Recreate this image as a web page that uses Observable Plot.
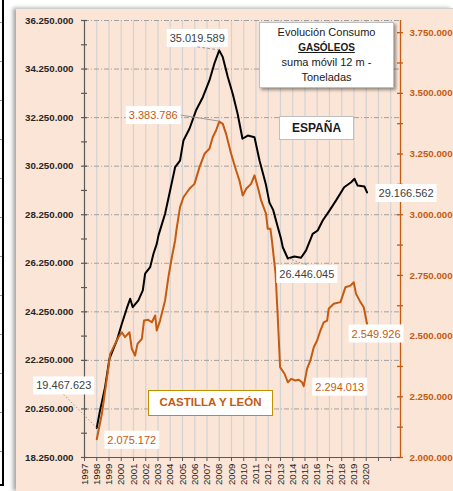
<!DOCTYPE html>
<html><head><meta charset="utf-8">
<script src="https://cdn.jsdelivr.net/npm/d3@7"></script>
<script src="https://cdn.jsdelivr.net/npm/@observablehq/plot@0.6"></script>
<style>
body{margin:0;background:#fff;width:453px;height:491px;overflow:hidden;position:relative;font-family:"Liberation Sans",Arial,sans-serif}
#side{position:absolute;left:0;top:0;width:2px;height:484px;border-right:2px solid #000;border-bottom:2px solid #000;background:repeating-linear-gradient(to bottom,transparent 0 22px,#9a9a9a 22px 23px,transparent 23px 39px)}
#chart{position:absolute;left:16px;top:8px;width:437px;height:483px;background:#FBE5D6;box-shadow:-3px 0 4px rgba(0,0,0,0.35);border-top:1px solid #d0d0d0;box-sizing:border-box}
#chart svg{position:absolute;left:0;top:-1px}
.box{position:absolute;background:#fff;text-align:center;box-sizing:border-box}
#titlebox{left:259px;top:22px;width:135px;height:66px;border:1px solid #bfbfbf;box-shadow:2px 2px 3px rgba(0,0,0,0.4);font-size:11px;line-height:15px;padding-top:2px;color:#1a1a1a}
#titlebox b{font-size:10px;text-decoration:underline}
#espana{left:279px;top:116px;width:75px;height:24px;border:1px solid #bfbfbf;font-weight:bold;font-size:12px;line-height:22px;color:#1a1a1a}
#cyl{left:148px;top:390px;width:125px;height:26px;border:1.5px solid #BF9000;font-weight:bold;font-size:11.5px;line-height:23px;color:#C55A11}
</style></head>
<body>
<div id="side"></div>
<div id="chart"></div>
<div class="box" id="titlebox">Evolución Consumo<br><b>GASÓLEOS</b><br>suma móvil 12 m -<br>Toneladas</div>
<div class="box" id="espana">ESPAÑA</div>
<div class="box" id="cyl">CASTILLA Y LEÓN</div>
<script>
// ---- Data ----
const spainYears = [1998.0, 1998.27, 1998.68, 1999.04, 1999.64, 2000.05, 2000.45, 2000.73, 2000.94, 2001.4, 2001.76, 2001.95, 2002.36, 2002.63, 2002.9, 2003.04, 2003.58, 2003.99, 2004.4, 2004.8, 2005.08, 2005.57, 2006.1, 2006.66, 2007.2, 2007.6, 2008.0, 2008.29, 2008.7, 2009.1, 2009.5, 2009.9, 2010.33, 2010.88, 2011.29, 2011.8, 2012.1, 2012.4, 2012.78, 2013.05, 2013.19, 2013.6, 2014.14, 2014.68, 2015.09, 2015.63, 2016.04, 2016.45, 2017.0, 2017.54, 2018.2, 2018.77, 2019.04, 2019.3, 2019.86, 2020.07];
const spainValues = [19467623, 20190000, 21150000, 22320000, 23070000, 23760000, 24390000, 24790000, 24440000, 24720000, 25130000, 25820000, 26090000, 26640000, 27050000, 27400000, 28290000, 29250000, 30210000, 30480000, 31310000, 31790000, 32540000, 33090000, 33780000, 34470000, 35019589, 34740000, 33920000, 33230000, 32410000, 31380000, 31510000, 31440000, 30480000, 29520000, 28750000, 28450000, 27740000, 27250000, 26910000, 26446045, 26530000, 26480000, 26780000, 27460000, 27600000, 28010000, 28420000, 28840000, 29380000, 29590000, 29730000, 29450000, 29410000, 29166562];

const cylYears = [1998.0, 1998.42, 1998.8, 1999.1, 1999.5, 1999.78, 2000.05, 2000.3, 2000.67, 2000.86, 2001.13, 2001.33, 2001.68, 2001.86, 2002.2, 2002.5, 2002.77, 2002.9, 2003.17, 2003.58, 2003.85, 2004.13, 2004.4, 2004.5, 2004.8, 2005.08, 2005.57, 2005.98, 2006.39, 2006.8, 2007.2, 2007.47, 2007.74, 2008.0, 2008.29, 2008.56, 2008.97, 2009.38, 2009.65, 2009.92, 2010.2, 2010.6, 2010.88, 2011.15, 2011.42, 2011.82, 2011.96, 2012.18, 2012.3, 2012.6, 2012.78, 2012.97, 2013.33, 2013.6, 2013.87, 2014.22, 2014.49, 2014.76, 2014.9, 2015.17, 2015.44, 2015.72, 2015.99, 2016.26, 2016.53, 2016.81, 2016.94, 2017.35, 2017.9, 2018.3, 2018.71, 2018.98, 2019.17, 2019.53, 2019.8, 2020.07];
const cylValues = [2075172, 2180000, 2317000, 2427000, 2468000, 2496000, 2516000, 2496000, 2516000, 2448000, 2420000, 2468000, 2489000, 2564000, 2567000, 2557000, 2585000, 2523000, 2564000, 2647000, 2743000, 2825000, 2894000, 2935000, 3031000, 3072000, 3107000, 3127000, 3196000, 3251000, 3272000, 3319000, 3347000, 3383786, 3374000, 3333000, 3251000, 3182000, 3141000, 3079000, 3107000, 3127000, 3162000, 3113000, 3059000, 3004000, 2942000, 2942000, 2894000, 2757000, 2578000, 2372000, 2345000, 2310000, 2324000, 2317000, 2320000, 2310000, 2294013, 2365000, 2400000, 2454000, 2482000, 2523000, 2557000, 2564000, 2613000, 2633000, 2640000, 2701000, 2708000, 2722000, 2674000, 2640000, 2619000, 2549926];

const leftTicks = [18250000, 20250000, 22250000, 24250000, 26250000, 28250000, 30250000, 32250000, 34250000, 36250000];
const rightTicks = [2000000, 2250000, 2500000, 2750000, 3000000, 3250000, 3500000, 3750000];
const yearTicks = [1997, 1998, 1999, 2000, 2001, 2002, 2003, 2004, 2005, 2006, 2007, 2008, 2009, 2010, 2011, 2012, 2013, 2014, 2015, 2016, 2017, 2018, 2019, 2020, 2021, 2022];
const yearLabels = ["1997","1998","1999","2000","2001","2002","2003","2004","2005","2006","2007","2008","2009","2010","2011","2012","2013","2014","2015","2016","2017","2018","2019","2020"];

const labelSeries = ["spain", "cyl", "spain", "cyl", "spain", "spain", "cyl", "cyl"];
const labelYears = [2008.0, 2008.0, 1998.0, 1998.0, 2013.6, 2020.07, 2014.9, 2020.07];
const labelValues = [35019589, 3383786, 19467623, 2075172, 26446045, 29166562, 2294013, 2549926];

// ---- Scales / helpers ----
const leftDomain = [18250000, 36250000];
const rightDomain = [2000000, 3800000];
const toLeft = v => leftDomain[0] + (v - rightDomain[0]) * (leftDomain[1] - leftDomain[0]) / (rightDomain[1] - rightDomain[0]);
const fromLeft = v => rightDomain[0] + (v - leftDomain[0]) * (rightDomain[1] - rightDomain[0]) / (leftDomain[1] - leftDomain[0]);
const locale = d3.formatLocale({decimal: ",", thousands: ".", grouping: [3], currency: ["", "€"]});
const fmt = locale.format(",.0f");
const xDomain = [1997, 2022.8];

const ORANGE = "#C55A11";
const spain = spainYears.map((x, i) => ({x, y: spainValues[i]}));
const cyl = cylYears.map((x, i) => ({x, y: toLeft(cylValues[i])}));

const leftMinor = d3.range(leftDomain[0], leftDomain[1] + 1, 1000000);
const rightMinor = d3.range(rightDomain[0], 3750001, 125000).map(toLeft);
const gridYears = yearTicks.filter(y => y > 1997);

// label layout (pixel offsets, leader side)
const labelLayout = [
  {dx: -22, dy: -12, leader: "bottom", dash: "3,2"},
  {dx: -66, dy: -6, leader: "right", dash: null},
  {dx: -33, dy: -42, leader: "bottom", dash: "1.5,2"},
  {dx: 35, dy: 1, leader: null},
  {dx: 19, dy: 16, leader: "top", dash: "1.5,2"},
  {dx: 39, dy: 1, leader: null},
  {dx: 36, dy: 1, leader: null},
  {dx: 9, dy: 10, leader: null}
];

const labelMarks = labelValues.map((v, i) => {
  const isC = labelSeries[i] === "cyl";
  return Plot.text([i], {
    x: j => labelYears[j],
    y: j => isC ? toLeft(labelValues[j]) : labelValues[j],
    text: j => fmt(labelValues[j]),
    dx: labelLayout[i].dx, dy: labelLayout[i].dy,
    fill: isC ? ORANGE : "#404040",
    fontSize: 11
  });
});

const plot = Plot.plot({
  width: 437, height: 483,
  marginLeft: 68, marginRight: 53, marginTop: 12, marginBottom: 34,
  style: {background: "transparent", fontFamily: "Liberation Sans, Arial, sans-serif", overflow: "visible"},
  x: {domain: xDomain, label: null},
  y: {domain: leftDomain, label: null},
  marks: [
    Plot.gridX(gridYears, {stroke: "#d3d3d3", strokeOpacity: 1, strokeWidth: 1.2}),
    Plot.gridY(leftTicks, {stroke: "#a0a0a0", strokeOpacity: 1, strokeDasharray: "5,2,1,2"}),
    Plot.line(spain, {x: "x", y: "y", stroke: "#000", strokeWidth: 2}),
    Plot.line(cyl, {x: "x", y: "y", stroke: ORANGE, strokeWidth: 2}),
    // left axis
    Plot.ruleX([xDomain[0]], {stroke: "#595959", strokeWidth: 1.2}),
    Plot.ruleY(leftMinor, {x1: xDomain[0], x2: xDomain[0], insetLeft: -3, insetRight: -3, stroke: "#595959", strokeWidth: 1.2}),
    Plot.axisY(leftTicks, {anchor: "left", label: null, tickSize: 0, tickPadding: 11, tickFormat: fmt, fontSize: 9.7, fontWeight: "bold", fill: "#262626"}),
    // right axis
    Plot.ruleX([xDomain[1]], {stroke: ORANGE, strokeWidth: 1.3}),
    Plot.ruleY(rightMinor, {x1: xDomain[1], x2: xDomain[1], insetLeft: -3, insetRight: -3, stroke: ORANGE, strokeWidth: 1.3}),
    Plot.axisY(rightTicks.map(toLeft), {anchor: "right", label: null, tickSize: 0, tickPadding: 9, tickFormat: d => fmt(fromLeft(d)), fontSize: 9.7, fontWeight: "bold", fill: ORANGE}),
    // bottom axis
    Plot.ruleY([leftDomain[0]], {stroke: "#595959", strokeWidth: 1.2}),
    Plot.axisX(yearTicks, {label: null, tickSize: 4, tickPadding: 2, tickRotate: -90, tickFormat: (d, i) => yearLabels[i] ?? "", fontSize: 9.7, stroke: "#595959", fill: "#262626"}),
    ...labelMarks
  ]
});

document.getElementById("chart").appendChild(plot);

// white boxes behind data labels + leader lines
const xs = plot.scale("x"), ys = plot.scale("y");
const svgRect = plot.getBoundingClientRect();
const NS = "http://www.w3.org/2000/svg";
const leaderG = document.createElementNS(NS, "g");
const allTexts = Array.from(plot.querySelectorAll("text"));
labelValues.forEach((v, i) => {
  const s = fmt(v);
  const t = allTexts.find(el => el.textContent === s && el.getAttribute("font-size") !== null || el.textContent === s);
  if (!t) return;
  const bb = t.getBBox();
  const r = document.createElementNS(NS, "rect");
  r.setAttribute("x", bb.x - 3); r.setAttribute("y", bb.y - 3);
  r.setAttribute("width", bb.width + 6); r.setAttribute("height", bb.height + 6);
  r.setAttribute("fill", "#fff");
  if (t.getAttribute("transform")) r.setAttribute("transform", t.getAttribute("transform"));
  t.parentNode.insertBefore(r, t);
  const L = labelLayout[i];
  if (!L.leader) return;
  const cr = r.getBoundingClientRect();
  const bx = cr.left - svgRect.left, by = cr.top - svgRect.top;
  let sx, sy;
  if (L.leader === "bottom") { sx = bx + cr.width / 2; sy = by + cr.height; }
  else if (L.leader === "top") { sx = bx + cr.width / 2; sy = by; }
  else if (L.leader === "right") { sx = bx + cr.width; sy = by + cr.height / 2; }
  else { sx = bx; sy = by + cr.height / 2; }
  const px = xs.apply(labelYears[i]);
  const py = ys.apply(labelSeries[i] === "cyl" ? toLeft(v) : v);
  const ln = document.createElementNS(NS, "line");
  ln.setAttribute("x1", sx); ln.setAttribute("y1", sy);
  ln.setAttribute("x2", px); ln.setAttribute("y2", py);
  ln.setAttribute("stroke", "#9a9a9a"); ln.setAttribute("stroke-width", 1);
  if (L.dash) ln.setAttribute("stroke-dasharray", L.dash);
  leaderG.appendChild(ln);
});
plot.appendChild(leaderG);
</script>
</body></html>
